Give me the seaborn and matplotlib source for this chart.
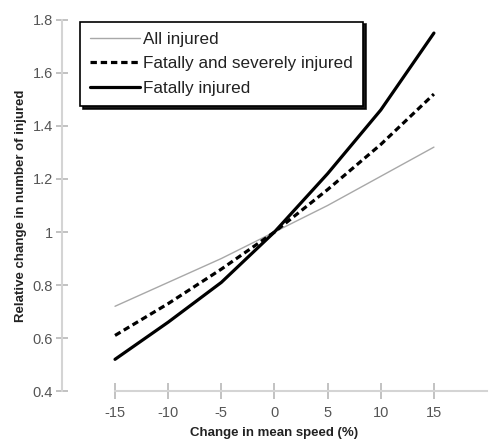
import matplotlib
matplotlib.use("Agg")
import matplotlib.pyplot as plt
import seaborn as sns
import pandas as pd

# Change in mean speed (%) and relative change in number of injured
speed_change = [-15, -10, -5, 0, 5, 10, 15]
all_injured = [0.72, 0.81, 0.90, 1.00, 1.10, 1.21, 1.32]
fatal_severe = [0.61, 0.73, 0.86, 1.00, 1.16, 1.33, 1.52]
fatal = [0.52, 0.66, 0.81, 1.00, 1.22, 1.46, 1.75]

series_names = ["All injured", "Fatally and severely injured", "Fatally injured"]
x_ticks = [-15, -10, -5, 0, 5, 10, 15]
y_ticks = [0.4, 0.6, 0.8, 1.0, 1.2, 1.4, 1.6, 1.8]
y_tick_labels = ["0.4", "0.6", "0.8", "1", "1.2", "1.4", "1.6", "1.8"]

df = pd.DataFrame({
    "speed": speed_change * 3,
    "value": all_injured + fatal_severe + fatal,
    "group": [series_names[0]] * 7 + [series_names[1]] * 7 + [series_names[2]] * 7,
})

sns.set_style("white")
plt.rcParams["font.family"] = ["Liberation Sans", "DejaVu Sans"]

fig = plt.figure(figsize=(4.91, 4.40), dpi=100)
ax = fig.add_axes([0.126, 0.111, 0.866, 0.844])

styles = {
    series_names[0]: dict(color="#a8a8a8", lw=1.0, ls="-"),
    series_names[1]: dict(color="black", lw=2.3, ls=(0, (2.0, 1.2))),
    series_names[2]: dict(color="black", lw=2.3, ls="-"),
}
for name in series_names:
    sub = df[df["group"] == name]
    st = styles[name]
    sns.lineplot(data=sub, x="speed", y="value", ax=ax, color=st["color"],
                 linewidth=st["lw"], linestyle=st["ls"], label=name)

ax.set_xlim(-20, 20)
ax.set_ylim(0.4, 1.8)
ax.set_xticks(x_ticks)
ax.set_xticklabels([str(t) for t in x_ticks])
ax.set_yticks(y_ticks)
ax.set_yticklabels(y_tick_labels)

for side in ["top", "right"]:
    ax.spines[side].set_visible(False)
ax.spines["left"].set_color("#d4d4d4")
ax.spines["bottom"].set_color("#d4d4d4")
ax.spines["left"].set_linewidth(1.5)
ax.spines["bottom"].set_linewidth(1.5)
ax.spines["bottom"].set_bounds(-15, 20)

ax.tick_params(axis="both", bottom=True, left=True, direction="inout",
               length=11, width=1.2, color="#b8b8b8", labelcolor="#555555",
               labelsize=10.5)
ax.tick_params(axis="x", pad=5)
ax.tick_params(axis="y", length=9, pad=2)

ax.set_xlabel("Change in mean speed (%)", fontsize=9.5, fontweight="bold",
              color="#222222", labelpad=5)
ax.set_ylabel("Relative change in number of injured", fontsize=9.5,
              fontweight="bold", color="#222222", labelpad=4)

leg = ax.legend(loc="upper left", bbox_to_anchor=(0.042, 0.995), frameon=True,
                fancybox=False, shadow={"color": "black", "alpha": 0.9},
                edgecolor="black", fontsize=12.3, handlelength=2.9,
                handletextpad=0.2, borderpad=0.6, labelspacing=0.55,
                borderaxespad=0)
leg.get_frame().set_linewidth(1.2)
for t in leg.get_texts():
    t.set_color("#222222")

fig.savefig("out.png", dpi=100, facecolor="white")
